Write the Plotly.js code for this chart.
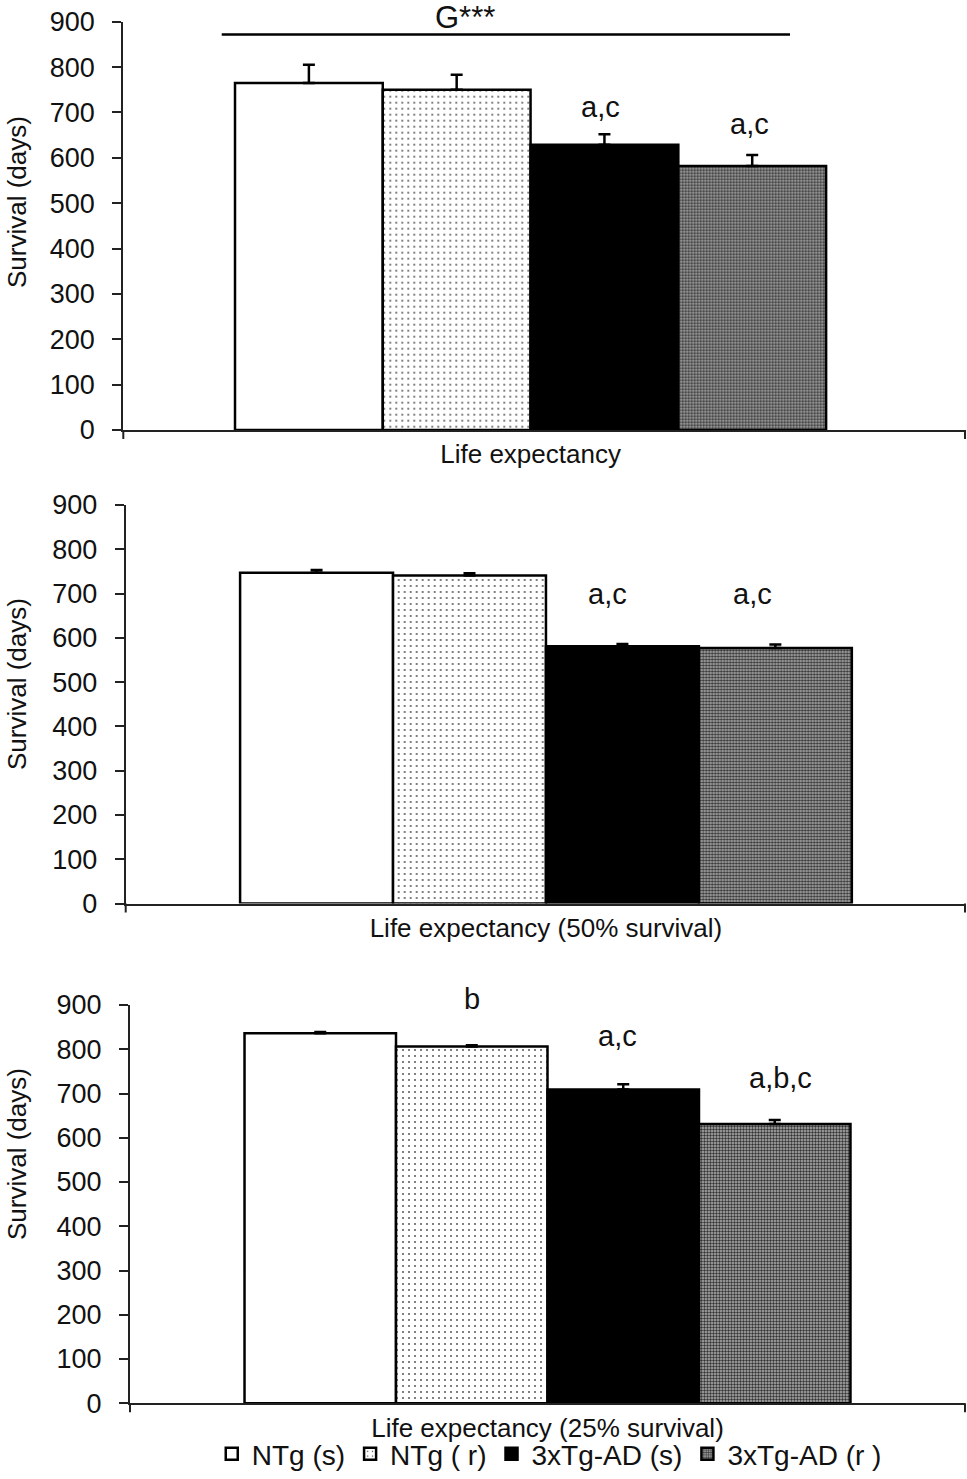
<!DOCTYPE html>
<html>
<head>
<meta charset="utf-8">
<script src="https://cdn.plot.ly/plotly-3.0.1.min.js"></script>
<style>
  html, body { margin: 0; padding: 0; background: #fff; }
</style>
</head>
<body>
<div id="chart" style="width:967px;height:1479px"></div>
<script>
// groups (legend entries) and the three panels
var groups = ['NTg (s)', 'NTg ( r)', '3xTg-AD (s)', '3xTg-AD (r )'];
var panelLabels = ['Life expectancy', 'Life expectancy (50% survival)', 'Life expectancy (25% survival)'];

// survival in days, mean and SEM, one value per group
var lifeMean = [765, 750, 629, 582];
var lifeErr = [40, 33, 23, 24];
var surv50Mean = [747, 741, 581, 577];
var surv50Err = [6, 5, 5, 8];
var surv25Mean = [836, 806, 709, 631];
var surv25Err = [3, 3, 12, 9];

var yTicks = [0, 100, 200, 300, 400, 500, 600, 700, 800, 900];
var Y_MAX = 900;

// significance letters: panel, x (category units), y (days), text
var letterPanel = [0, 0, 1, 1, 2, 2, 2];
var letterX = [0.118, 0.37, 0.101, 0.338, -0.125, 0.115, 0.384];
var letterY = [712, 675, 699, 699, 913, 830, 735];
var letterText = ['a,c', 'a,c', 'a,c', 'a,c', 'b', 'a,c', 'a,b,c'];

var means = [lifeMean, surv50Mean, surv25Mean];
var errs = [lifeErr, surv50Err, surv25Err];

var FONT = 'Liberation Sans, Arial, sans-serif';
var AXIS = '#222';

var markerStyles = [
    { color: '#ffffff', line: { color: '#000', width: 2.5 } },
    {
        color: '#ffffff', line: { color: '#000', width: 2.5 },
        pattern: { shape: '.', fgcolor: '#444', bgcolor: '#ffffff', size: 6, solidity: 0.07 }
    },
    { color: '#000000', line: { color: '#000', width: 2.5 } },
    {
        color: '#8c8c8c', line: { color: '#000', width: 2.5 },
        pattern: { shape: '.', fgcolor: '#333', bgcolor: '#b0b0b0', size: 3, solidity: 0.5 }
    }
];

var panelBox = [
    { left: 123.3, top: 21.7, bottom: 430, range: [-0.689, 0.735] },
    { left: 125.7, top: 505, bottom: 903.5, range: [-0.687, 0.685] },
    { left: 130, top: 1005, bottom: 1403.3, range: [-0.689, 0.689] }
];
var W = 967, H = 1479, RIGHT = 965;

var traces = [];
panelLabels.forEach(function (label, p) {
    var sfx = p ? String(p + 1) : '';
    groups.forEach(function (name, g) {
        traces.push({
            type: 'bar',
            name: name,
            legendgroup: name,
            showlegend: p === 0,
            x: [label],
            y: [means[p][g]],
            xaxis: 'x' + sfx,
            yaxis: 'y' + sfx,
            marker: markerStyles[g],
            error_y: {
                type: 'data',
                symmetric: false,
                array: [errs[p][g]],
                color: '#000',
                thickness: 2.5,
                width: 6
            },
            hoverinfo: 'skip'
        });
    });
});

var layout = {
    width: W,
    height: H,
    margin: { l: 0, r: 0, t: 0, b: 0 },
    paper_bgcolor: '#fff',
    plot_bgcolor: '#fff',
    barmode: 'group',
    bargap: 0,
    bargroupgap: 0,
    font: { family: FONT, color: '#111', size: 26 },
    showlegend: true,
    legend: {
        orientation: 'h',
        x: 0.568,
        xanchor: 'center',
        y: 0,
        yanchor: 'bottom',
        font: { family: FONT, size: 28, color: '#111' },
        itemwidth: 30,
        tracegroupgap: 0,
        bgcolor: 'rgba(0,0,0,0)'
    },
    shapes: [],
    annotations: []
};

panelBox.forEach(function (b, p) {
    var sfx = p ? String(p + 1) : '';
    layout['xaxis' + sfx] = {
        domain: [b.left / W, RIGHT / W],
        anchor: 'y' + sfx,
        type: 'category',
        range: b.range,
        showline: true,
        linecolor: AXIS,
        linewidth: 2,
        ticks: '',
        showgrid: false,
        zeroline: false,
        tickfont: { family: FONT, size: 26, color: '#111' },
        fixedrange: true
    };
    layout['yaxis' + sfx] = {
        domain: [1 - b.bottom / H, 1 - b.top / H],
        anchor: 'x' + sfx,
        range: [0, Y_MAX],
        tickvals: yTicks,
        ticks: 'outside',
        ticklen: 9,
        tickwidth: 2,
        tickcolor: AXIS,
        showline: true,
        linecolor: AXIS,
        linewidth: 2,
        showgrid: false,
        zeroline: false,
        ticklabelstandoff: 12,
        tickfont: { family: FONT, size: 27, color: '#111' },
        fixedrange: true
    };
    // small downward ticks at both ends of the category axis
    [0, 1].forEach(function (xe) {
        layout.shapes.push({
            type: 'line',
            xref: 'x' + sfx + ' domain', yref: 'y' + sfx + ' domain',
            x0: xe, x1: xe,
            ysizemode: 'pixel', yanchor: 0, y0: 0, y1: -9,
            line: { color: AXIS, width: 2 }
        });
    });
});

// y axis titles, placed as in the reference (not centred on the axis)
var titleCentre = [202, 684, 1154];
titleCentre.forEach(function (cy) {
    layout.annotations.push({
        text: 'Survival (days)',
        xref: 'paper', yref: 'paper',
        x: 17 / W, y: 1 - cy / H,
        xanchor: 'center', yanchor: 'middle',
        textangle: -90,
        showarrow: false,
        font: { family: FONT, size: 26, color: '#111' }
    });
});

// genotype effect bar and label in the top panel
layout.shapes.push({
    type: 'line', xref: 'x', yref: 'y',
    x0: -0.5225, x1: 0.439, y0: 872, y1: 872,
    line: { color: '#000', width: 2.5 }
});
layout.annotations.push({
    text: 'G***',
    xref: 'x', yref: 'y domain',
    x: -0.111, y: 1.01,
    xanchor: 'center', yanchor: 'middle',
    showarrow: false,
    font: { family: FONT, size: 31, color: '#111' }
});

letterText.forEach(function (t, i) {
    var sfx = letterPanel[i] ? String(letterPanel[i] + 1) : '';
    layout.annotations.push({
        text: t,
        xref: 'x' + sfx, yref: 'y' + sfx + ' domain',
        x: letterX[i], y: letterY[i] / Y_MAX,
        xanchor: 'center', yanchor: 'middle',
        showarrow: false,
        font: { family: FONT, size: 29, color: '#111' }
    });
});

Plotly.newPlot('chart', traces, layout, { displayModeBar: false, staticPlot: true });
</script>
</body>
</html>
